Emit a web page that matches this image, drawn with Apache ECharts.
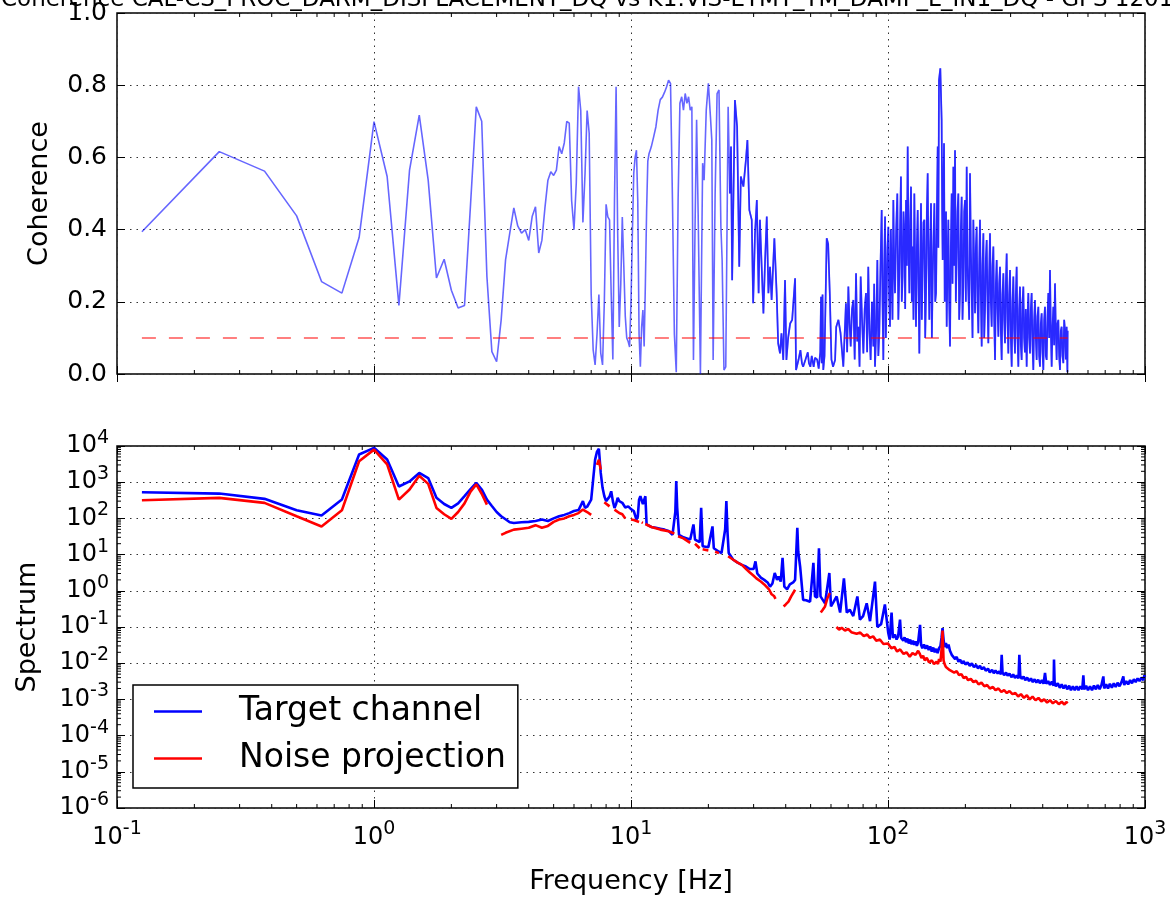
<!DOCTYPE html>
<html><head><meta charset="utf-8">
<script src="https://cdn.jsdelivr.net/npm/echarts@6/dist/echarts.min.js"></script>
<style>html,body{margin:0;padding:0;background:#fff}#c{width:1170px;height:902px}</style>
</head><body><div id="c"></div>
<script>
// ---------------- data ----------------
const titleText = 'Coherence CAL-CS_PROC_DARM_DISPLACEMENT_DQ vs K1:VIS-ETMY_TM_DAMP_L_IN1_DQ - GPS 1201651218';
const xLabel = 'Frequency [Hz]';
const cohLabel = 'Coherence';
const specLabel = 'Spectrum';
const seriesNames = ['Target channel', 'Noise projection'];
const xRange = [0.1, 1000];
const cohRange = [0, 1];
const specRange = [1e-6, 1e4];
const cohTickStep = 0.2;
const threshold = [[0.125, 0.1], [500, 0.1]];
const denseFrom = 24; // Hz: where the coherence trace is so dense that it reads darker

const coherence = [
[0.125,0.394],[0.25,0.616],[0.375,0.562],[0.5,0.438],[0.625,0.256],[0.75,0.224],[0.875,0.378],[1.0,0.699],[1.125,0.547],[1.25,0.19],[1.375,0.565],[1.5,0.717],[1.625,0.537],[1.75,0.266],[1.875,0.318],[2.0,0.232],[2.125,0.183],[2.25,0.19],[2.375,0.47],[2.5,0.74],[2.625,0.70],[2.75,0.27],[2.875,0.062],[3.0,0.034],[3.125,0.15],[3.25,0.316],[3.375,0.39],[3.5,0.46],[3.625,0.41],[3.75,0.39],[3.875,0.40],[4.0,0.37],[4.125,0.436],[4.25,0.463],[4.375,0.335],[4.5,0.37],[4.625,0.46],[4.75,0.537],[4.875,0.56],[5.0,0.55],[5.125,0.565],[5.25,0.63],[5.375,0.61],[5.5,0.64],[5.625,0.70],[5.75,0.695],[5.875,0.48],[6.0,0.40],[6.125,0.53],[6.25,0.796],[6.375,0.73],[6.5,0.42],[6.625,0.556],[6.75,0.73],[6.875,0.667],[7.0,0.22],[7.125,0.067],[7.25,0.025],[7.375,0.11],[7.5,0.22],[7.625,0.058],[7.75,0.025],[7.875,0.2],[8.0,0.47],[8.125,0.435],[8.25,0.427],[8.375,0.22],[8.5,0.04],[8.625,0.48],[8.75,0.796],[8.875,0.39],[9.0,0.13],[9.125,0.25],[9.25,0.435],[9.375,0.3],[9.5,0.16],[9.625,0.1],[9.75,0.09],[9.875,0.075],[10.0,0.2],[10.125,0.39],[10.25,0.556],[10.375,0.6],[10.5,0.62],[10.625,0.48],[10.75,0.11],[10.875,0.02],[11.0,0.13],[11.125,0.177],[11.25,0.076],[11.375,0.25],[11.5,0.45],[11.625,0.59],[11.75,0.61],[11.875,0.62],[12.0,0.63],[12.25,0.657],[12.5,0.685],[12.75,0.731],[13.0,0.76],[13.25,0.767],[13.5,0.78],[13.75,0.795],[14.0,0.814],[14.25,0.805],[14.5,0.48],[14.75,0.11],[15.0,0.005],[15.25,0.48],[15.5,0.75],[15.75,0.768],[16.0,0.731],[16.25,0.777],[16.5,0.75],[16.75,0.768],[17.0,0.731],[17.25,0.74],[17.5,0.039],[17.75,0.408],[18.0,0.704],[18.25,0.445],[18.625,0.0],[19.0,0.584],[19.25,0.537],[19.625,0.731],[20.0,0.805],[20.375,0.713],[20.625,0.648],[20.875,0.039],[21.25,0.5],[21.625,0.777],[22.0,0.787],[22.375,0.408],[22.625,0.316],[23.0,0.011],[23.375,0.02],[23.875,0.74],[24.25,0.5],[24.5,0.63],[24.75,0.26],[25.375,0.759],[25.875,0.685],[26.375,0.297],[26.75,0.547],[27.375,0.519],[28.0,0.593],[28.375,0.648],[28.875,0.454],[29.5,0.427],[29.875,0.196],[30.375,0.39],[30.875,0.482],[31.375,0.224],[31.75,0.427],[32.25,0.297],[32.75,0.168],[33.25,0.316],[33.75,0.436],[34.25,0.224],[34.75,0.297],[35.25,0.205],[36.125,0.376],[36.875,0.224],[37.375,0.085],[38.0,0.057],[38.5,0.113],[39.125,0.039],[39.75,0.26],
[40.25,0.039],[40.875,0.10],[41.625,0.14],[42.375,0.15],[43.5,0.265],[43.875,0.011],[44.875,0.04],[45.625,0.066],[46.25,0.03],[46.75,0.02],[47.75,0.04],[48.75,0.06],[49.25,0.03],[49.875,0.02],[50.5,0.05],[51.375,0.02],[52.0,0.045],[53.0,0.04],[53.75,0.015],[54.5,0.06],[54.875,0.214],[55.25,0.03],[55.625,0.22],[56.0,0.011],[56.625,0.05],[57.75,0.376],[58.5,0.36],[59.375,0.22],[60.25,0.04],[61.125,0.02],[62.25,0.039],[62.875,0.13],[64.125,0.15],[65.375,0.113],[67.0,0.02],
[68.6,0.196],[69.35,0.06],[70.1,0.242],[70.85,0.14],[71.6,0.076],[72.45,0.18],[73.3,0.205],[74.2,0.04],[75.1,0.279],[75.9,0.09],[76.7,0.131],[77.5,0.02],[78.3,0.27],[79.25,0.15],[80.2,0.057],[81.15,0.18],[82.1,0.224],[82.95,0.06],[83.8,0.297],[84.7,0.12],[85.6,0.039],[86.65,0.2],[87.7,0.076],[88.35,0.25],[89.0,0.02],[89.95,0.12],[90.9,0.316],[91.7,0.05],[92.5,0.113],[93.5,0.3],[94.5,0.454],[95.2,0.2],[95.9,0.039],[96.65,0.3],[97.4,0.436],[98.1,0.1],[98.8,0.224],[99.55,0.35],[100.3,0.408],[101.05,0.22],[101.8,0.131],[102.55,0.4],[103.3,0.288],[104.1,0.15],[104.9,0.482],[105.7,0.3],[106.5,0.224],[107.6,0.4],[108.7,0.5],[109.7,0.15],[110.7,0.279],[111.5,0.42],[112.3,0.547],[113.15,0.2],[114.0,0.27],[114.9,0.45],[115.8,0.39],[116.65,0.18],[117.5,0.482],[118.4,0.3],[119.3,0.63],[120.2,0.35],[121.1,0.224],[122.0,0.42],[122.9,0.519],[123.8,0.2],[124.7,0.353],[125.65,0.15],[126.6,0.5],[127.55,0.3],[128.5,0.131],[129.5,0.35],[130.5,0.454],[131.45,0.25],[132.4,0.057],[133.4,0.3],[134.4,0.473],[135.4,0.15],[136.4,0.297],[137.45,0.42],[138.5,0.427],[139.55,0.1],[140.6,0.224],[141.65,0.45],[142.7,0.556],[143.75,0.3],[144.8,0.15],[145.9,0.35],[147.0,0.473],[148.15,0.1],[149.3,0.27],[150.4,0.38],[151.5,0.473],[152.65,0.2],[153.8,0.224],[154.95,0.45],[156.1,0.63],[157.0,0.35],[157.9,0.814],[159.8,0.847],[161.7,0.704],[162.45,0.45],[163.2,0.316],[164.2,0.5],[165.2,0.639],[166.2,0.2],[167.2,0.279],[168.2,0.45],[169.2,0.131],[170.45,0.3],[171.7,0.427],[173.0,0.2],[174.3,0.076],[175.6,0.35],[176.9,0.5],[178.25,0.25],[179.6,0.574],[180.95,0.3],[182.3,0.62],[183.65,0.2],[185.0,0.316],[186.4,0.45],[187.8,0.5],[189.2,0.15],[190.6,0.224],[192.05,0.4],[193.5,0.491],[194.95,0.15],[196.4,0.242],[197.9,0.45],[199.4,0.482],[200.9,0.2],[202.4,0.574],[203.9,0.3],[205.4,0.297],[206.95,0.15],[208.5,0.556],[210.1,0.35],[211.7,0.224],[213.25,0.1],[214.8,0.427],[216.45,0.3],[218.1,0.168],[219.7,0.35],[221.3,0.408],[223.0,0.2],[224.7,0.113],[226.35,0.3],[228.0,0.427],[229.75,0.22],[231.5,0.076],[233.25,0.3],[235.0,0.39],[236.75,0.1],[238.5,0.177],[240.3,0.32],[242.1,0.371],[243.9,0.2],[245.7,0.085],[247.55,0.28],[249.4,0.39],[251.3,0.2],[253.2,0.131],[255.1,0.3],[257.0,0.353],[258.95,0.15],[260.9,0.039],[262.85,0.25],[264.8,0.316],[266.8,0.18],[268.8,0.103],[270.8,0.25],[272.8,0.297],[274.85,0.12],[276.9,0.039],[279.0,0.22],[281.1,0.279],[283.2,0.15],[285.3,0.085],[287.45,0.25],[289.6,0.334],[291.75,0.15],[293.9,0.057],[296.15,0.22],[298.4,0.288],[300.65,0.1],[302.9,0.02],[305.15,0.2],[307.4,0.27],[309.7,0.12],[312.0,0.057],[314.35,0.22],[316.7,0.297],[319.1,0.1],[321.5,0.02],[323.9,0.18],[326.3,0.242],[328.75,0.08],[331.2,0.039],[333.7,0.2],[336.2,0.242],[338.6,0.1],[341.0,0.06],[343.7,0.18],[346.4,0.02],[349.0,0.15],[351.6,0.224],[354.25,0.1],[356.9,0.057],[359.55,0.18],[362.2,0.224],[364.95,0.08],[367.7,0.011],[370.45,0.15],[373.2,0.205],[376.0,0.1],[378.8,0.039],[381.7,0.16],[384.6,0.186],[387.45,0.05],[390.3,0.02],[393.25,0.14],[396.2,0.168],[399.2,0.06],[402.2,0.011],[405.2,0.15],[408.2,0.186],[411.3,0.05],[414.4,0.039],[417.5,0.16],[420.6,0.224],[423.75,0.1],[426.9,0.288],[430.15,0.12],[433.4,0.02],[436.65,0.13],[439.9,0.186],[443.15,0.08],[446.4,0.251],[449.8,0.12],[453.2,0.039],[456.6,0.14],[460.0,0.15],[463.45,0.05],[466.9,0.011],[470.4,0.12],[473.9,0.131],[477.5,0.05],[481.1,0.03],[484.7,0.15],[488.3,0.122],[492.0,0.04],[495.6,0.131],[497.3,0.06],[499.0,0.005],[500.0,0.12]
];

const target = [
[0.125,527],[0.25,485],[0.375,347],[0.5,168],[0.625,120],[0.75,331],[0.875,5820],[1.0,8900],[1.125,4250],[1.25,760],[1.375,1050],[1.5,1800],[1.625,1300],[1.75,370],[1.875,250],[2.0,195],[2.125,260],[2.25,410],[2.375,640],[2.5,960],[2.625,630],[2.75,330],[2.875,220],[3.0,150],[3.125,115],[3.25,95],[3.375,78],[3.5,75],[3.75,78],[4.0,80],[4.25,85],[4.5,93],[4.75,85],[5.0,100],[5.25,115],[5.5,125],[5.75,140],[6.0,160],[6.25,170],[6.5,300],[6.625,195],[6.75,210],[7.0,330],[7.125,1200],[7.25,4200],[7.375,7000],[7.5,8400],[7.625,1800],[7.75,700],[7.875,410],[8.0,300],[8.25,400],[8.375,560],[8.5,300],[8.625,195],[8.75,250],[8.875,370],[9.0,300],[9.25,270],[9.5,200],[9.75,215],[10.0,180],[10.25,160],[10.5,93],[10.625,110],[10.75,330],[10.875,410],[11.125,250],[11.375,410],[11.5,68],[12.0,58],[12.5,55],[13.0,52],[13.5,49],[14.0,45],[14.5,35],[14.875,150],[15.0,1070],[15.125,200],[15.375,35],[16.0,30],[16.5,28],[17.0,26],[17.5,68],[17.75,26],[18.5,22],[18.75,195],[19.0,17],[20.0,16],[20.75,60],[21.0,15],[22.0,12],[22.5,11],[23.25,50],[23.5,300],[23.75,40],[24.0,11],[25.0,7.2],[26.0,6],[27.0,5.2],[28.0,4.7],[29.0,4],[30.0,4],[30.5,6.5],[31.0,3],[32.0,2.3],[33.0,2],[34.0,1.7],[34.75,1.3],[35.5,1.6],[36.25,3.1],[37.0,2.0],[37.5,2.5],[38.25,1.8],[38.875,8.1],[39.5,1.3],[40.5,1.1],[41.5,1.5],[42.75,1.7],[43.5,2.0],[44.375,55],[44.75,12],[45.5,4.7],[46.75,0.56],[48.0,0.55],[49.75,0.5],[51.25,5.9],[52.0,0.7],[53.0,0.65],[53.875,15],[54.625,0.7],[56.875,0.45],[59.125,3.1],[60.0,0.37],[61.5,0.5],[63.125,0.7],[65.125,0.25],[67.375,2.2],[69.125,0.25],[71.0,0.3],[73.25,0.2],[76.0,0.7],[77.75,0.16],[80.0,0.2],[82.625,0.45],[85.125,0.145],[89.0,1.8],[90.875,0.1],[94.0,0.12],[97.25,0.42],[100.25,0.068],[101.5,0.045],[103.25,0.25],[104.5,0.05],[106.5,0.062],[108,0.045],[109.5,0.055],[111.375,0.16],[112.5,0.05],[114.75,0.042],[116,0.052],[117.5,0.038],[119,0.048],[120.5,0.035],[122,0.045],[123.6,0.033],[125,0.042],[126.5,0.032],[128,0.04],[129.5,0.03],[131,0.038],[133.25,0.114],[134.5,0.032],[136,0.026],[138,0.033],[140,0.025],[142,0.031],[144,0.023],[146,0.029],[148,0.021],[150,0.027],[152,0.02],[154,0.025],[156,0.019],[158,0.026],[160,0.03],[161.5,0.05],[163,0.093],[164.5,0.045],[166,0.028],[168,0.036],[170,0.026],[172,0.033],[174.25,0.022],
[177,0.017],[180,0.019],[182.5,0.013],[185,0.015],[188,0.011],[191,0.0125],[194,0.0098],[197,0.0115],[200,0.0092],[204,0.0105],[208,0.0085],[212,0.0098],[216,0.0078],[220,0.009],[224,0.0072],[228,0.0085],[232,0.0068],[236,0.0078],[240,0.0062],[245,0.0071],[249,0.0056],[254,0.0066],[258,0.0053],[262,0.0063],[267,0.0052],[271,0.006],[275,0.0049],[276.9,0.017],[279,0.0056],[283,0.0047],[288,0.0055],[292,0.0045],[297,0.0052],[302,0.0041],[307,0.0049],[312,0.0039],[317,0.0046],[322,0.0038],[324.4,0.017],[327,0.0045],[331,0.0037],[337,0.0043],[342,0.0034],[348,0.004],[354,0.0032],[360,0.0038],[366,0.003],[372,0.0036],[378,0.0029],[384,0.0035],[390,0.0028],[397,0.0034],[403,0.0027],[408.25,0.0054],[413,0.0027],[420,0.0032],[427,0.0025],[434,0.0031],[441,0.0024],[442.5,0.0126],[445,0.0029],[450,0.0023],[458,0.0028],[466,0.0021],[474,0.0026],[482,0.002],[490,0.0025],[498,0.0019],[507,0.0024],[515,0.0018],[524,0.0023],[533,0.0018],[542,0.0023],[551,0.0018],[560,0.0023],[570,0.0019],[575.6,0.0046],[580,0.0019],[590,0.0024],[600,0.0018],[611,0.0023],[622,0.0018],[633,0.0024],[644,0.0019],[655,0.0025],[666,0.0019],[677,0.0025],[688.5,0.0043],[694,0.002],[706,0.0026],[718,0.002],[730,0.0027],[743,0.0021],[756,0.0028],[769,0.0022],[782,0.0029],[796,0.0023],[810,0.003],[823.6,0.0043],[830,0.0025],[845,0.0032],[860,0.0026],[875,0.0034],[890,0.0028],[905,0.0036],[920,0.003],[936,0.0038],[952,0.0032],[968,0.004],[985,0.0034],[995,0.0046],[1000,0.0042]
];

const noise = [
[0.125,316],[0.25,369],[0.375,269],[0.5,115],[0.625,60],[0.75,167],[0.875,3800],[1.0,7950],[1.125,3100],[1.25,330],[1.375,630],[1.5,1500],[1.625,900],[1.75,195],[1.875,130],[2.0,97],[2.125,150],[2.25,260],[2.375,550],[2.5,870],[2.625,480],[2.75,240],[2.875,null],
[3.125,35],[3.25,40],[3.5,49],[3.75,52],[4.0,55],[4.25,65],[4.5,55],[4.75,62],[5.0,80],[5.25,93],[5.5,100],[5.75,115],[6.0,125],[6.25,140],[6.5,175],[6.75,150],[7.0,125],[7.125,null],
[7.375,3000],[7.5,4200],[7.625,2240],[7.75,null],
[7.875,280],[8.0,250],[8.25,215],[8.375,null],
[8.625,175],[8.75,160],[9.0,141],[9.25,130],[9.5,100],[9.625,null],
[10.0,93],[10.25,90],[10.5,85],[10.75,80],[10.875,null],
[11.0,78],[11.125,75],[11.25,null],
[11.375,70],[11.5,65],[12.0,58],[13.0,49],[14.0,44],[14.5,40],[14.75,38],[15.0,null],
[15.25,32],[16.0,28],[17.0,21],[17.5,null],
[17.75,20],[18.0,18],[18.5,15],[18.625,null],
[19.0,14],[20.0,13],[20.875,null],
[21.25,12],[22.0,11],[23.0,null],
[23.875,9],[25.0,7.2],[26.0,6],[27.0,5.2],[28.25,3.8],[29.0,3.2],[30.0,2.6],[30.75,2.2],[32.0,1.8],[33.0,1.5],[34.5,1.07],[35.25,0.8],[36.0,0.72],[36.5,0.6],[37.25,null],
[39.25,0.37],[40.0,0.42],[41.0,0.5],[42.0,0.7],[43.5,1.07],[44.0,null],
[54.75,0.25],[55.75,0.3],[56.875,0.37],[58.0,0.6],[59.375,0.87],[60.0,null],
[63.0,0.1],[64.5,0.085],[66.0,0.095],[68,0.08],[70.0,0.088],[72,0.072],[73.25,0.08],[75.5,0.065],[78.0,0.07],[80.5,0.056],[83,0.062],[85.0,0.05],[87.5,0.055],[90,0.042],[93.0,0.045],[96,0.034],[100.0,0.035],[103,0.026],[106,0.028],[108.5,0.021],[111.5,0.024],[115.0,0.018],[118,0.02],[121.5,0.015],[124.5,0.019],[128.0,0.017],[131,0.022],[133.0,0.018],[135,0.014],[137.0,0.016],[139,0.012],[141.5,0.014],[144.5,0.0105],[148.0,0.012],[151,0.0095],[154.5,0.011],[156.5,0.0095],[158.0,0.013],[160,0.011],[161.5,0.023],[163.0,0.08],[164.5,0.012],[166,0.0095],[168.0,0.0078],[171,0.0085],[174,0.0064],[177,0.007],[181,0.0055],[185.0,0.006],[189,0.0047],[193,0.005],[197,0.0039],[201,0.0042],[205,0.0034],[210,0.0037],[215,0.003],[220,0.0033],[225,0.0026],[231,0.0029],[237,0.0023],[243,0.0025],[249,0.002],[256,0.0022],[262,0.0018],[269,0.002],[276,0.0016],[283,0.0018],[290,0.0015],[297,0.0017],[305,0.0014],[313,0.0015],[321,0.0012],[329,0.0014],[338,0.0011],[347,0.0013],[356,0.001],[365,0.0012],[375,0.00095],[385,0.0011],[395,0.00088],[405,0.001],[416,0.00082],[427,0.00095],[438,0.00078],[450,0.0009],[462,0.00074],[474,0.00086],[486,0.00072],[494,0.00085],[500,0.00078]
];

// ---------------- chart ----------------
const F = 'DejaVu Sans';
const G1 = {left: 117, top: 13, width: 1028, height: 361};
const G2 = {left: 117, top: 446, width: 1028, height: 362};

function decadesBetween(a, b) { const out = []; for (let e = Math.round(Math.log10(a)); e < Math.round(Math.log10(b)); e++) out.push(e); return out; }
function minorsFor(range) { const out = []; decadesBetween(range[0], range[1]).forEach(e => { for (let m = 2; m <= 9; m++) out.push(m * Math.pow(10, e)); }); return out; }
const xMinor = minorsFor(xRange);
const yMinor = minorsFor(specRange);

const supRich = {
  b: {fontSize: 24, fontFamily: F, color: '#000'},
  s: {fontSize: 19, fontFamily: F, color: '#000', padding: [0, 0, 16, 0]}
};
function powLabel(v) { const e = Math.round(Math.log10(v)); return '{b|10}{s|' + e + '}'; }

const gridLine = {show: true, lineStyle: {color: '#333', width: 1, type: [1.5, 5]}};
const tickIn = {show: true, inside: true, length: 8, lineStyle: {color: '#000', width: 1}};

function xAxisDef(gridIndex, pos, labels) {
  return {
    type: 'log', logBase: 10, gridIndex, position: pos, min: xRange[0], max: xRange[1], splitNumber: 4, interval: 1,
    axisLine: {show: false}, axisTick: tickIn,
    axisLabel: labels ? {show: true, margin: 12, formatter: powLabel, rich: supRich, hideOverlap: false} : {show: false},
    splitLine: pos === 'bottom' ? gridLine : {show: false},
    name: labels ? xLabel : '', nameLocation: 'middle', nameGap: 60,
    nameTextStyle: {fontSize: 27, fontFamily: F, color: '#000'}
  };
}

function minorSeries(xi, yi, vals, dir, ref) {
  return {
    type: 'custom', xAxisIndex: xi, yAxisIndex: yi, silent: true, clip: false, z: 6,
    data: vals.map(v => dir === 'x' ? [v, ref] : [ref, v]),
    renderItem(params, api) {
      const p = api.coord([api.value(0), api.value(1)]);
      const cs = params.coordSys; const L = 4;
      const st = {stroke: '#000', lineWidth: 1};
      if (dir === 'x') {
        return {type: 'group', children: [
          {type: 'line', shape: {x1: p[0], y1: cs.y, x2: p[0], y2: cs.y + L}, style: st},
          {type: 'line', shape: {x1: p[0], y1: cs.y + cs.height, x2: p[0], y2: cs.y + cs.height - L}, style: st}
        ]};
      }
      return {type: 'group', children: [
        {type: 'line', shape: {x1: cs.x, y1: p[1], x2: cs.x + L, y2: p[1]}, style: st},
        {type: 'line', shape: {x1: cs.x + cs.width, y1: p[1], x2: cs.x + cs.width - L, y2: p[1]}, style: st}
      ]};
    }
  };
}

const chart = echarts.init(document.getElementById('c'), null, {renderer: 'canvas'});
chart.setOption({
  animation: false,
  backgroundColor: '#fff',
  graphic: [{
    type: 'text', z: 10,
    style: {text: titleText, x: 1, y: 12, align: 'left', verticalAlign: 'bottom', fontSize: 23, fontFamily: F, fill: '#000'}
  }],
  grid: [
    Object.assign({show: true, borderColor: '#000', borderWidth: 1.5, backgroundColor: 'transparent'}, G1),
    Object.assign({show: true, borderColor: '#000', borderWidth: 1.5, backgroundColor: 'transparent'}, G2)
  ],
  xAxis: [
    xAxisDef(0, 'bottom', false),
    xAxisDef(0, 'top', false),
    xAxisDef(1, 'bottom', true),
    xAxisDef(1, 'top', false)
  ],
  yAxis: [
    {type: 'value', gridIndex: 0, position: 'left', min: cohRange[0], max: cohRange[1], interval: cohTickStep,
     axisLine: {show: false}, axisTick: tickIn, splitLine: gridLine,
     axisLabel: {margin: 10, fontSize: 25, fontFamily: F, color: '#000', formatter: v => v.toFixed(1)},
     name: cohLabel, nameLocation: 'middle', nameGap: 64, nameRotate: 90,
     nameTextStyle: {fontSize: 27, fontFamily: F, color: '#000'}},
    {type: 'value', gridIndex: 0, position: 'right', min: cohRange[0], max: cohRange[1], interval: cohTickStep,
     axisLine: {show: false}, axisTick: tickIn, splitLine: {show: false}, axisLabel: {show: false}},
    {type: 'log', logBase: 10, gridIndex: 1, position: 'left', min: specRange[0], max: specRange[1], splitNumber: 10, interval: 1,
     axisLine: {show: false}, axisTick: tickIn, splitLine: gridLine,
     axisLabel: {margin: 8, formatter: powLabel, rich: supRich, hideOverlap: false, showMinLabel: true, showMaxLabel: true},
     name: specLabel, nameLocation: 'middle', nameGap: 76, nameRotate: 90,
     nameTextStyle: {fontSize: 27, fontFamily: F, color: '#000'}},
    {type: 'log', logBase: 10, gridIndex: 1, position: 'right', min: specRange[0], max: specRange[1], splitNumber: 10, interval: 1,
     axisLine: {show: false}, axisTick: tickIn, splitLine: {show: false}, axisLabel: {show: false}}
  ],
  legend: {
    data: seriesNames, orient: 'vertical', left: 133, top: 685,
    padding: [10, 12, 13, 21], itemGap: 14, itemWidth: 48, itemHeight: 2.5, icon: 'rect',
    borderColor: '#000', borderWidth: 1.5, backgroundColor: '#fff',
    textStyle: {fontSize: 33, fontFamily: F, color: '#000', padding: [0, 0, 0, 32]}
  },
  series: [
    {name: 'coherence', type: 'line', xAxisIndex: 0, yAxisIndex: 0, data: coherence, showSymbol: false, symbol: 'none',
     lineStyle: {color: 'rgba(0,0,255,0.6)', width: 1.6}, z: 3},
    {name: 'coherence (dense)', type: 'line', xAxisIndex: 0, yAxisIndex: 0, data: coherence.filter(p => p[0] >= denseFrom), showSymbol: false, symbol: 'none',
     lineStyle: {color: 'rgba(0,0,255,0.6)', width: 1.8}, z: 3},
    {name: 'threshold', type: 'line', xAxisIndex: 0, yAxisIndex: 0, data: threshold, showSymbol: false, symbol: 'none',
     lineStyle: {color: 'rgba(255,0,0,0.5)', width: 2, type: [14, 13]}, z: 4},
    {name: seriesNames[0], type: 'line', xAxisIndex: 2, yAxisIndex: 2, data: target, showSymbol: false, symbol: 'none',
     itemStyle: {color: '#0000ff'}, lineStyle: {color: '#0000ff', width: 2.6}, z: 3},
    {name: seriesNames[1], type: 'line', xAxisIndex: 2, yAxisIndex: 2, data: noise, showSymbol: false, symbol: 'none', connectNulls: false,
     itemStyle: {color: '#ff0000'}, lineStyle: {color: '#ff0000', width: 2.6}, z: 4},
    minorSeries(0, 0, xMinor, 'x', 0.5),
    minorSeries(2, 2, xMinor, 'x', 1),
    minorSeries(2, 2, yMinor, 'y', 1)
  ]
});
</script>
</body></html>
